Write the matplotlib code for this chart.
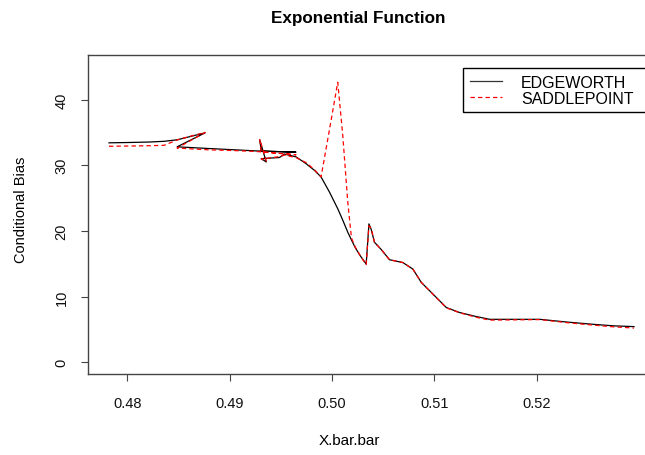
import matplotlib
matplotlib.use("Agg")
import matplotlib.pyplot as plt
from matplotlib.lines import Line2D

plt.rcParams['font.family'] = ['Liberation Sans', 'DejaVu Sans']

# X.bar.bar values, in the order the points are joined
x_bar = [0.47821, 0.48017, 0.48213, 0.48359, 0.48487, 0.48624, 0.48761,
         0.48487, 0.48800, 0.49045, 0.49270, 0.49649, 0.49309, 0.49295,
         0.49358, 0.49309, 0.49487, 0.49536, 0.49649, 0.49747, 0.49829,
         0.49894, 0.49976, 0.50057, 0.50106, 0.50155, 0.50191, 0.50230,
         0.50279, 0.50335, 0.50362, 0.50384, 0.50416, 0.50482, 0.50563,
         0.50693, 0.50791, 0.50874, 0.51119, 0.51249, 0.51412, 0.51543,
         0.52032, 0.52294, 0.52554, 0.52750, 0.52953]

edgeworth = [33.42, 33.47, 33.54, 33.65, 33.88, 34.41, 34.95,
             32.81, 32.55, 32.36, 32.18, 32.00, 32.16, 33.82,
             30.51, 31.01, 31.18, 31.71, 31.28, 30.25, 29.23,
             28.22, 25.92, 23.38, 21.64, 19.80, 18.62, 17.40,
             16.17, 14.95, 21.07, 20.23, 18.27, 17.17, 15.61,
             15.18, 14.19, 12.15, 8.32, 7.56, 6.95, 6.53,
             6.53, 6.12, 5.77, 5.54, 5.42]

saddlepoint = [32.90, 32.93, 32.98, 33.04, 33.85, 34.46, 35.00,
               32.62, 32.35, 32.24, 32.09, 31.60, 32.05, 33.92,
               30.63, 30.94, 31.32, 31.55, 31.17, 30.41, 29.33,
               28.22, 35.42, 42.65, 34.58, 24.39, 18.93, 17.48,
               16.17, 14.87, 20.77, 20.38, 18.27, 17.17, 15.61,
               15.18, 14.19, 12.15, 8.28, 7.53, 6.84, 6.41,
               6.49, 6.03, 5.65, 5.39, 5.20]

x_ticks = [0.48, 0.49, 0.50, 0.51, 0.52]
y_ticks = [0, 10, 20, 30, 40]
y_range = (0, 45)

W, H = 645, 456
fig = plt.figure(figsize=(W / 100, H / 100), dpi=100)
ax = fig.add_axes([88 / W, 1 - 375 / H, (655 - 88) / W, (375 - 56) / H])

ax.plot(x_bar, edgeworth, color='black', lw=0.9, label='EDGEWORTH')
ax.plot(x_bar, saddlepoint, color='red', lw=0.9, linestyle=(0, (3.5, 2.5)),
        label='SADDLEPOINT')

# R style axis ranges (4% padding)
xmin, xmax = min(x_bar), max(x_bar)
dx = 0.04 * (xmax - xmin)
ax.set_xlim(xmin - dx, xmax + dx)
dy = 0.04 * (y_range[1] - y_range[0])
ax.set_ylim(y_range[0] - dy, y_range[1] + dy)

ax.set_xticks(x_ticks)
ax.set_xticklabels([f"{v:.2f}" for v in x_ticks])
ax.set_yticks(y_ticks)
ax.set_yticklabels([str(v) for v in y_ticks], rotation=90, va='center')

for s in ax.spines.values():
    s.set_color('#444444')
    s.set_linewidth(1.0)
ax.tick_params(direction='out', length=5, width=0.8, color='#444444',
               labelsize=10.5, labelcolor='#111111')
ax.tick_params(axis='x', pad=11)
ax.tick_params(axis='y', pad=9)

fig.text(358 / W, 1 - 18 / H, 'Exponential Function', ha='center', va='center',
         fontsize=12.3, fontweight='bold')
fig.text(349 / W, 1 - 441 / H, 'X.bar.bar', ha='center', va='center', fontsize=11)
fig.text(21 / W, 1 - 210 / H, 'Conditional Bias', ha='center', va='center',
         rotation=90, fontsize=10.5)

handles = [Line2D([], [], color='#333333', lw=0.9),
           Line2D([], [], color='red', lw=0.9, linestyle=(0, (3.5, 2.5)))]
leg = fig.legend(handles, ['EDGEWORTH', 'SADDLEPOINT'], loc='upper left',
                 bbox_to_anchor=(463 / W, 1 - 115 / H, (672 - 463) / W, 46 / H),
                 mode='expand', fontsize=11.5,
                 frameon=True, fancybox=False, framealpha=1, edgecolor='black',
                 borderpad=0.42, labelspacing=0.05, handlelength=2.0,
                 handletextpad=1.2, borderaxespad=0)
leg.get_frame().set_linewidth(1.0)

fig.savefig('out.png', dpi=100)
